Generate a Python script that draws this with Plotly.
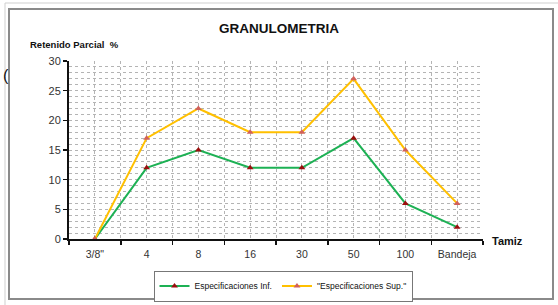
import plotly.graph_objects as go

categories = ['3/8"', "4", "8", "16", "30", "50", "100", "Bandeja"]
inf_values = [0, 12, 15, 12, 12, 17, 6, 2]
sup_values = [0, 17, 22, 18, 18, 27, 15, 6]
series_names = ["Especificaciones Inf.", '"Especificaciones Sup."']

W, H = 558, 305
L, R, T, B = 69, 483, 61, 239

def px(x):
    return (x - L) / (R - L)

def py(y):
    return (B - y) / (B - T)

xs = list(range(len(categories)))
FONT = "Liberation Sans, Arial, sans-serif"
GRID = "#b4b4b4"

fig = go.Figure()
fig.add_trace(go.Scatter(
    x=xs, y=inf_values, name=series_names[0], mode="lines+markers",
    line=dict(color="#1db154", width=2),
    marker=dict(symbol="triangle-up", size=6, color="#9b0d0d"),
))
fig.add_trace(go.Scatter(
    x=xs, y=sup_values, name=series_names[1], mode="lines+markers",
    line=dict(color="#ffc000", width=2),
    marker=dict(symbol="triangle-up", size=6, color="#d2605a"),
))

fig.update_layout(
    width=W, height=H,
    margin=dict(l=L, r=W - R, t=T, b=H - B, autoexpand=False),
    paper_bgcolor="white", plot_bgcolor="white",
    font=dict(family=FONT, size=11, color="#222"),
    title=dict(text="<b>GRANULOMETRIA</b>", x=0.5, xref="container",
               y=1 - 28 / H, yref="container", yanchor="middle", xanchor="center",
               font=dict(size=13.5, color="#111", family=FONT)),
    showlegend=True,
    legend=dict(orientation="h", xref="container", yref="container",
                x=283 / W, y=1 - 286 / H, xanchor="center", yanchor="middle",
                bordercolor="#777", borderwidth=1, bgcolor="white",
                font=dict(size=8.5, color="#111", family=FONT),
                itemwidth=30, tracegroupgap=0),
    xaxis=dict(
        range=[-0.5, len(categories) - 0.5], tickmode="array", tickvals=xs,
        ticktext=categories, ticks="", showline=True, linecolor="#111", linewidth=1.5,
        showgrid=True, gridcolor=GRID, griddash="dot", gridwidth=1,
        zeroline=False, tickfont=dict(size=10.5, color="#333"), ticklabelstandoff=5,
        minor=dict(tickmode="array", tickvals=[i + 0.5 for i in range(-1, len(categories))],
                   ticks="outside", ticklen=4, tickcolor="#111", tickwidth=1.5,
                   showgrid=True, gridcolor=GRID, griddash="dot", gridwidth=1),
        fixedrange=True,
    ),
    yaxis=dict(
        range=[0, 30], tickmode="array", tickvals=[0, 5, 10, 15, 20, 25, 30],
        ticks="outside", ticklen=4, tickcolor="#111", tickwidth=1.5,
        showline=True, linecolor="#111", linewidth=2,
        showgrid=True, gridcolor=GRID, griddash="dot", gridwidth=1,
        zeroline=False, tickfont=dict(size=11, color="#333"),
        minor=dict(tickmode="array", tickvals=list(range(31)), showgrid=True,
                   gridcolor=GRID, griddash="dot", gridwidth=1, ticks=""),
        fixedrange=True,
    ),
)

fig.add_annotation(text="<b>Retenido Parcial  %</b>", xref="paper", yref="paper",
                   x=px(28), y=py(44), xanchor="left", yanchor="middle", showarrow=False,
                   font=dict(size=9.5, color="#111", family=FONT))
fig.add_annotation(text="<b>Tamiz</b>", xref="paper", yref="paper",
                   x=px(490), y=py(241), xanchor="left", yanchor="middle", showarrow=False,
                   font=dict(size=11, color="#111", family=FONT))
fig.add_annotation(text="(", xref="paper", yref="paper",
                   x=px(1), y=py(75), xanchor="left", yanchor="middle", showarrow=False,
                   font=dict(size=16, color="#111", family=FONT))

# outer chart frame
fig.add_shape(type="rect", xref="paper", yref="paper",
              x0=px(9), x1=px(553), y0=py(299), y1=py(9),
              line=dict(color="#8a8a8a", width=2), layer="below")
# page edges
fig.add_shape(type="line", xref="paper", yref="paper",
              x0=px(5), x1=px(558), y0=py(3), y1=py(3),
              line=dict(color="#cfcfcf", width=1))
fig.add_shape(type="line", xref="paper", yref="paper",
              x0=px(5), x1=px(5), y0=py(3), y1=py(305),
              line=dict(color="#cfcfcf", width=1))

fig.write_html(
    "out.html",
    config={"displayModeBar": False, "staticPlot": True},
    post_script="document.body.style.margin='0';document.body.style.overflow='hidden';",
)
